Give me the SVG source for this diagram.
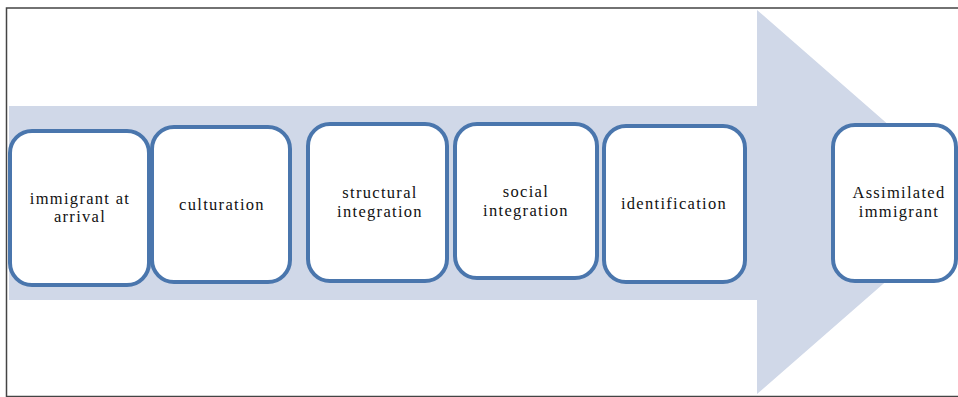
<svg xmlns="http://www.w3.org/2000/svg" width="958" height="397" viewBox="0 0 958 397">
<style>
.box{fill:#fff;stroke:#4a76ad;stroke-width:4}
.t{font-size:16.5px;letter-spacing:1.3px;fill:#111;text-anchor:middle}
</style>
<rect x="0" y="0" width="958" height="397" fill="#fff"/>
<g id="arrow">
<polygon points="9,106 757,106 757,10 977,202 757,394 757,300 9,300" fill="#d0d8e8"/>
</g>
<path d="M960,8 H6.5 V396.5 H960" fill="none" stroke="#444" stroke-width="1.5"/>
<g id="connectors"></g>
<g font-family="Liberation Serif, Times New Roman, serif">
<g id="n1"><rect class="box" x="10" y="131" width="139" height="154" rx="22"/>
<text class="t" x="80" y="204">immigrant at</text><text class="t" x="80" y="222">arrival</text></g>
<g id="n2"><rect class="box" x="152" y="127" width="138" height="155" rx="22"/>
<text class="t" x="222" y="210">culturation</text></g>
<g id="n3"><rect class="box" x="308" y="124" width="139" height="157" rx="22"/>
<text class="t" x="380" y="198">structural</text><text class="t" x="380" y="217">integration</text></g>
<g id="n4"><rect class="box" x="455" y="124" width="142" height="154" rx="22"/>
<text class="t" x="526" y="197">social</text><text class="t" x="526" y="216">integration</text></g>
<g id="n5"><rect class="box" x="604" y="126" width="141" height="156" rx="22"/>
<text class="t" x="674" y="209">identification</text></g>
<g id="n6"><rect class="box" x="833" y="125" width="123" height="156" rx="22"/>
<text class="t" x="899" y="198">Assimilated</text><text class="t" x="899" y="217">immigrant</text></g>
</g>
</svg>
